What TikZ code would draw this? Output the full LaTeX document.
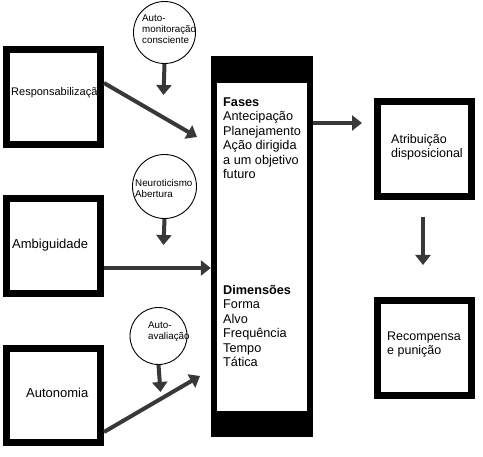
\documentclass[tikz,border=0pt]{standalone}
\usepackage{fontspec}
\setmainfont{Liberation Sans}
\usetikzlibrary{arrows.meta}
\newcommand{\mlines}[1]{\begin{tabular}[t]{@{}l@{}}#1\end{tabular}}
\tikzset{
  thickbox/.style={draw=black, line width=7pt, fill=white, inner sep=0pt, minimum width=94pt, minimum height=95pt},
  circ/.style={draw=black, line width=0.9pt, circle, fill=white, inner sep=0pt},
  arr/.style={draw=black!78, line width=4pt, -{Triangle[length=10pt,width=15pt]}},
  txt/.style={inner sep=0pt, anchor=base west},
}
\begin{document}
\begin{tikzpicture}[x=1pt,y=-1pt]
\useasboundingbox (0,0) rectangle (483,457);
% left boxes
\node[thickbox] (resp) at (53.5,97) {};
\node[thickbox] (amb) at (53.5,246) {};
\node[thickbox, minimum height=94pt] (auto) at (53.5,395.5) {};
\node[txt, font=\fontsize{11}{13}\selectfont] (tresp) at (11,96) {Responsabilização};
\node[txt, font=\fontsize{13}{15}\selectfont] (tamb) at (12,248.5) {Ambiguidade};
\node[txt, font=\fontsize{13}{15}\selectfont] (tauto) at (26,397.5) {Autonomia};
% central box
\node[fill=black, minimum width=102pt, minimum height=381pt, inner sep=0pt] (central) at (262,246.5) {};
\node[fill=white, minimum width=90pt, minimum height=328pt, inner sep=0pt] (inner) at (262,247) {};
\node[txt, font=\fontsize{12.7}{14.4}\selectfont] (fases) at (223,106.5) {\mlines{\textbf{Fases}\\Antecipação\\Planejamento\\Ação dirigida\\a um objetivo\\futuro}};
\node[txt, font=\fontsize{12.7}{14.4}\selectfont] (dims) at (223,294.5) {\mlines{\textbf{Dimensões}\\Forma\\Alvo\\Frequência\\Tempo\\Tática}};
% right boxes
\node[thickbox] (atr) at (424.5,149) {};
\node[thickbox] (rec) at (424.5,348) {};
\node[txt, font=\fontsize{12.5}{14}\selectfont] (tatr) at (391,144) {\mlines{Atribuição\\disposicional}};
\node[txt, font=\fontsize{12.5}{14}\selectfont] (trec) at (387,341) {\mlines{Recompensa\\e punição}};
% circles
\node[circ, minimum size=62pt] (c1) at (164.5,32.5) {};
\node[circ, minimum size=64pt] (c2) at (164.5,186.5) {};
\node[circ, minimum size=57pt] (c3) at (158.5,336) {};
\node[txt, font=\fontsize{9.8}{11}\selectfont] (tc1) at (142,22) {\mlines{Auto-\\monitoração\\consciente}};
\node[txt, font=\fontsize{9.8}{10.5}\selectfont] (tc2) at (135,187) {\mlines{Neuroticismo\\Abertura}};
\node[txt, font=\fontsize{9.8}{10.5}\selectfont] (tc3) at (148,329) {\mlines{Auto-\\avaliação}};
% arrow end points
\coordinate (e1) at (197,137);
\coordinate (e3) at (200,376);
\coordinate (d1) at (163.5,95);
\coordinate (d2) at (163.5,245);
\coordinate (d3) at (160.5,392);
\coordinate (r1) at (362,123);
\coordinate (s4) at (423,217);
\coordinate (e4) at (423,265);
% arrows
\draw[arr] (resp.east |- 0,83) -- (e1);
\draw[arr] (amb.east |- 0,268) -- (central.west |- 0,268);
\draw[arr] (auto.east |- 0,432) -- (e3);
\draw[arr] (c1.south) -- (d1);
\draw[arr] (c2.south) -- (d2);
\draw[arr] (c3.south) -- (d3);
\draw[arr] (central.east |- 0,123) -- (r1);
\draw[arr] (s4) -- (e4);
\end{tikzpicture}
\end{document}
